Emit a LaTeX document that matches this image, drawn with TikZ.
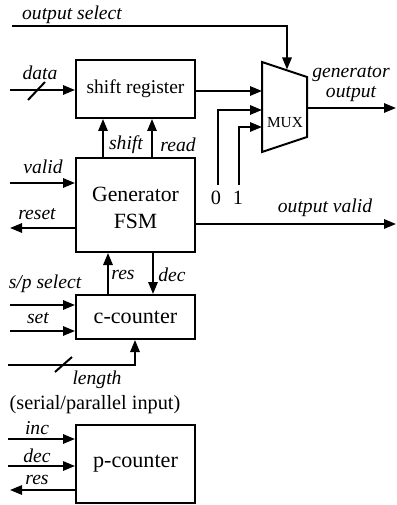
\documentclass[tikz,border=0pt]{standalone}
\usepackage{fontspec}
\setmainfont{Liberation Serif}
\usetikzlibrary{arrows.meta}
\begin{document}
\begin{tikzpicture}[x=0.75pt,y=-0.75pt,
  line width=1.5pt,
  >={Triangle[length=9pt,width=7pt]},
  blk/.style={draw,line width=1.5pt,minimum width=89.25pt,inner sep=0pt,align=center,font=\fontsize{16.3}{18}\selectfont},
  lbl/.style={font=\fontsize{14.7}{15}\selectfont\itshape,inner sep=0pt},
  rlbl/.style={font=\fontsize{15.2}{16}\selectfont,inner sep=0pt}]
\useasboundingbox (0,0) rectangle (396,505);
% blocks
\node[blk,minimum height=43.5pt,font=\fontsize{14.6}{17}\selectfont] (sr) at (135.5,89) {shift register};
\node[blk,minimum height=70.5pt] (fsm) at (135.5,205) {};
\node[blk,draw=none,minimum height=0pt] (fsmt) at (135.5,208) {Generator\\[2.5pt]FSM};
\node[blk,minimum height=33pt,font=\fontsize{16.6}{18}\selectfont] (cc) at (135.5,317) {c-counter};
\node[blk,minimum height=58.5pt,font=\fontsize{16.6}{18}\selectfont] (pc) at (135.5,464) {p-counter};
% MUX
\draw[line width=1.5pt] (262,62) -- (307,77) -- (307,137) -- (262,152) -- cycle;
\node[font=\fontsize{11.5}{12}\selectfont,inner sep=0pt] (muxl) at (285,123) {MUX};
\coordinate (mtop) at (287,69.5);
\coordinate (min1) at (262,91);
\coordinate (min2) at (262,110);
\coordinate (min3) at (262,127);
\coordinate (mout) at (307,108);
% output select
\coordinate (os) at (12,26.5);
\draw[->] (os) -| (mtop);
\node[lbl] (osl) at (72,15) {output select};
% shift register -> mux
\draw[->] (sr.east |- min1) -- (min1);
\coordinate (c0) at (218,185);
\coordinate (c1) at (239,185);
\draw[->] (c0) |- (min2);
\draw[->] (c1) |- (min3);
\node[rlbl,anchor=north] (l0) at (216,190) {0};
\node[rlbl,anchor=north] (l1) at (238,190) {1};
% generator output
\coordinate (go) at (396,108);
\draw[->] (mout) -- (go);
\node[lbl] (gol1) at (351,74.5) {generator};
\node[lbl] (gol2) at (351,94) {output};
% output valid
\coordinate (ov) at (396,224);
\draw[->] (fsm.east |- ov) -- (ov);
\node[lbl] (ovl) at (325,208) {output valid};
% data
\coordinate (din) at (10,90);
\draw[->] (din) -- (sr.west |- din);
\coordinate (ds1) at (28,100);
\coordinate (ds2) at (45,82);
\draw (ds1) -- (ds2);
\node[lbl] (dl) at (40,73) {data};
% shift / read
\draw[->] (fsm.north -| 103,0) -- (sr.south -| 103,0);
\draw[->] (fsm.north -| 152,0) -- (sr.south -| 152,0);
\node[lbl] (shl) at (126,145) {shift};
\node[lbl] (rdl) at (178,145) {read};
% valid / reset
\coordinate (vin) at (10,183);
\draw[->] (vin) -- (fsm.west |- vin);
\node[lbl] (vl) at (43,167) {valid};
\coordinate (rout) at (10,228);
\draw[->] (fsm.west |- rout) -- (rout);
\node[lbl] (rl) at (37,214) {reset};
% res / dec between fsm and c-counter
\draw[->] (cc.north -| 108,0) -- (fsm.south -| 108,0);
\draw[->] (fsm.south -| 153,0) -- (cc.north -| 153,0);
\node[lbl] (resl) at (123,275) {res};
\node[lbl] (decl) at (172,275) {dec};
% s/p select, set
\coordinate (spin) at (10,305);
\draw[->] (spin) -- (cc.west |- spin);
\node[lbl] (spl) at (45,284) {s/p select};
\coordinate (setin) at (10,331);
\draw[->] (setin) -- (cc.west |- setin);
\node[lbl] (setl) at (38,318) {set};
% length
\coordinate (lin) at (8,365);
\coordinate (lc) at (135,365);
\draw[->] (lin) -- (lc) -- (cc.south -| lc);
\coordinate (ls1) at (55,372);
\coordinate (ls2) at (72,357);
\draw (ls1) -- (ls2);
\node[lbl] (ll) at (97,380) {length};
\node[rlbl] (spi) at (95,405) {(serial/parallel input)};
% p-counter
\coordinate (iin) at (8,439);
\draw[->] (iin) -- (pc.west |- iin);
\node[lbl] (il) at (37,428) {inc};
\coordinate (dcin) at (8,466);
\draw[->] (dcin) -- (pc.west |- dcin);
\node[lbl] (dcl) at (37,456) {dec};
\coordinate (rsout) at (10,490);
\draw[->] (pc.west |- rsout) -- (rsout);
\node[lbl] (rsl) at (37,480) {res};
\end{tikzpicture}
\end{document}
